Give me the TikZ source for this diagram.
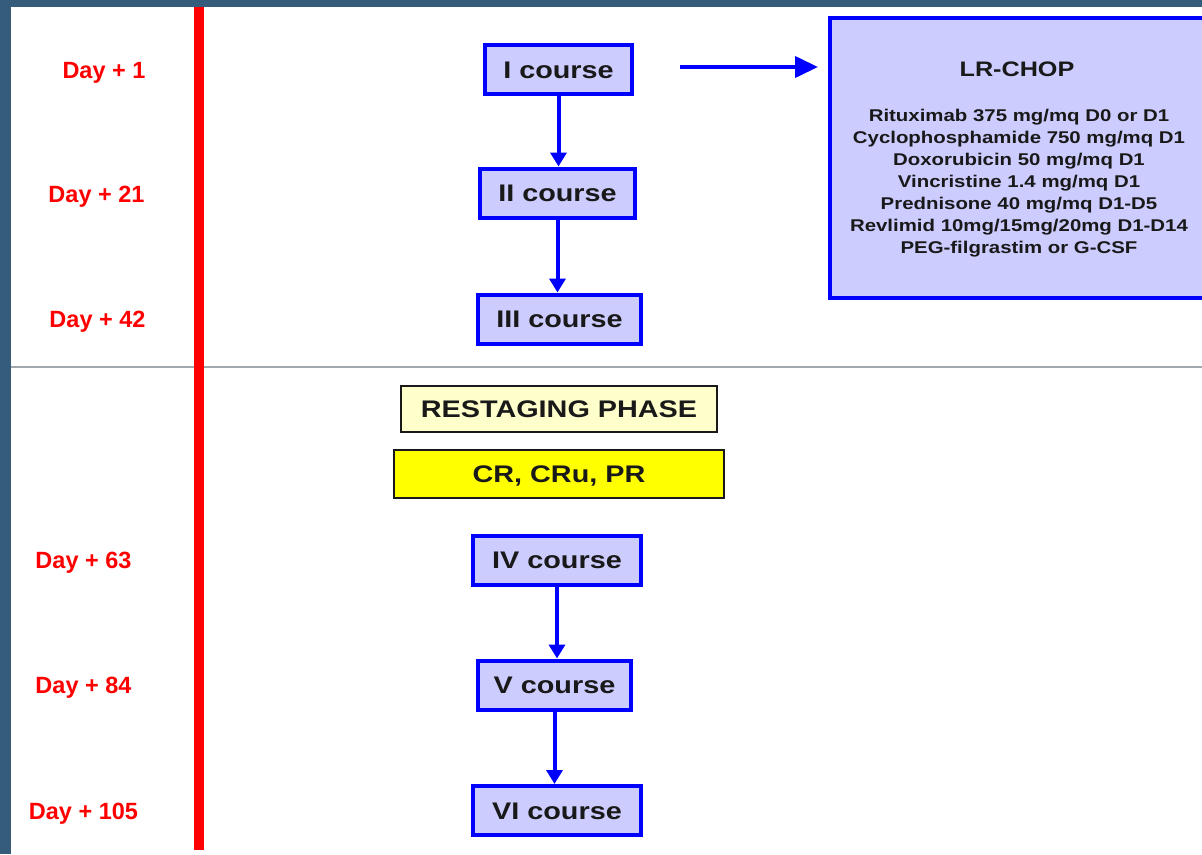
\documentclass[tikz,border=0pt]{standalone}
\usepackage{fontspec}
\setmainfont{Liberation Sans}
\newfontfamily\boxfont{Liberation Sans}[FakeStretch=1.2]
\usetikzlibrary{arrows.meta}
\definecolor{frameblue}{RGB}{54,92,124}
\definecolor{cblue}{RGB}{0,0,255}
\definecolor{cfill}{RGB}{204,204,255}
\definecolor{rfill}{RGB}{255,255,204}
\definecolor{yfill}{RGB}{255,255,0}
\definecolor{ink}{RGB}{25,25,25}
\definecolor{sepgrey}{RGB}{160,168,176}
\tikzset{
  course/.style={draw=cblue, line width=4pt, fill=cfill, minimum height=49pt,
    inner sep=0pt, text height=17pt, text depth=0pt, text=ink,
    font={\boxfont\fontsize{24}{28}\selectfont\bfseries}},
  phase/.style={draw=ink, line width=2pt, inner sep=0pt, text height=17pt, text depth=0pt,
    text=ink, font={\boxfont\fontsize{24}{28}\selectfont\bfseries}},
  daylabel/.style={text=red, inner sep=0pt, font={\fontsize{23.5}{26}\selectfont\bfseries}},
  flow/.style={draw=cblue, line width=4pt, -{Triangle[length=14pt,width=16pt]}},
}
\begin{document}
\begin{tikzpicture}[x=1pt, y=-1pt]
\useasboundingbox (0,0) rectangle (1202,854);
% frame and separators
\fill[white] (0,0) rectangle (1202,854);
\fill[frameblue] (0,0) rectangle (1202,7);
\fill[frameblue] (0,0) rectangle (11,854);
\draw[sepgrey, line width=1.5pt] (11,367) -- (1202,367);
\fill[red] (193.5,7) rectangle (204,850);

% timeline labels
\node[daylabel] (d1)   at (104,73)   {Day + 1};
\node[daylabel] (d21)  at (96.5,197) {Day + 21};
\node[daylabel] (d42)  at (97.5,322) {Day + 42};
\node[daylabel] (d63)  at (83.5,563) {Day + 63};
\node[daylabel] (d84)  at (83.5,688) {Day + 84};
\node[daylabel] (d105) at (83.5,814) {Day + 105};

% courses
\node[course, minimum width=147pt] (c1) at (558.5,69.5) {I course};
\node[course, minimum width=155pt] (c2) at (557.5,193) {II course};
\node[course, minimum width=163pt] (c3) at (559.5,319) {III course};
\node[course, minimum width=168pt] (c4) at (557,560) {IV course};
\node[course, minimum width=153pt] (c5) at (554.5,685) {V course};
\node[course, minimum width=168pt] (c6) at (557,810.5) {VI course};

\draw[flow] (c1.south) -- (c1.south |- c2.north);
\draw[flow] (c2.south) -- (c2.south |- c3.north);
\draw[flow] (c4.south) -- (c4.south |- c5.north);
\draw[flow] (c5.south) -- (c5.south |- c6.north);

% restaging
\node[phase, fill=rfill, minimum width=316pt, minimum height=46pt] (rs) at (559,409) {RESTAGING PHASE};
\node[phase, fill=yfill, minimum width=330pt, minimum height=48pt] (cr) at (559,474) {CR, CRu, PR};

% regimen box
\node[draw=cblue, line width=4pt, fill=cfill, minimum width=378pt, minimum height=280pt, inner sep=0pt] (lr) at (1019,158) {};
\node[text=ink, inner sep=0pt, font={\boxfont\fontsize{21}{24}\selectfont\bfseries}] (lrt) at (1017,69) {LR-CHOP};
\node[text=ink, inner sep=0pt, align=center, font={\boxfont\fontsize{17}{22}\selectfont\bfseries}] (lrl) at (1019,183)
  {Rituximab 375 mg/mq D0 or D1\\
   Cyclophosphamide 750 mg/mq D1\\
   Doxorubicin 50 mg/mq D1\\
   Vincristine 1.4 mg/mq D1\\
   Prednisone 40 mg/mq D1-D5\\
   Revlimid 10mg/15mg/20mg D1-D14\\
   PEG-filgrastim or G-CSF};

\coordinate (a0) at (680,67);
\coordinate (a1) at (818,67);
\draw[draw=cblue, line width=4pt, -{Triangle[length=23pt,width=21pt]}] (a0) -- (a1);
\end{tikzpicture}
\end{document}
